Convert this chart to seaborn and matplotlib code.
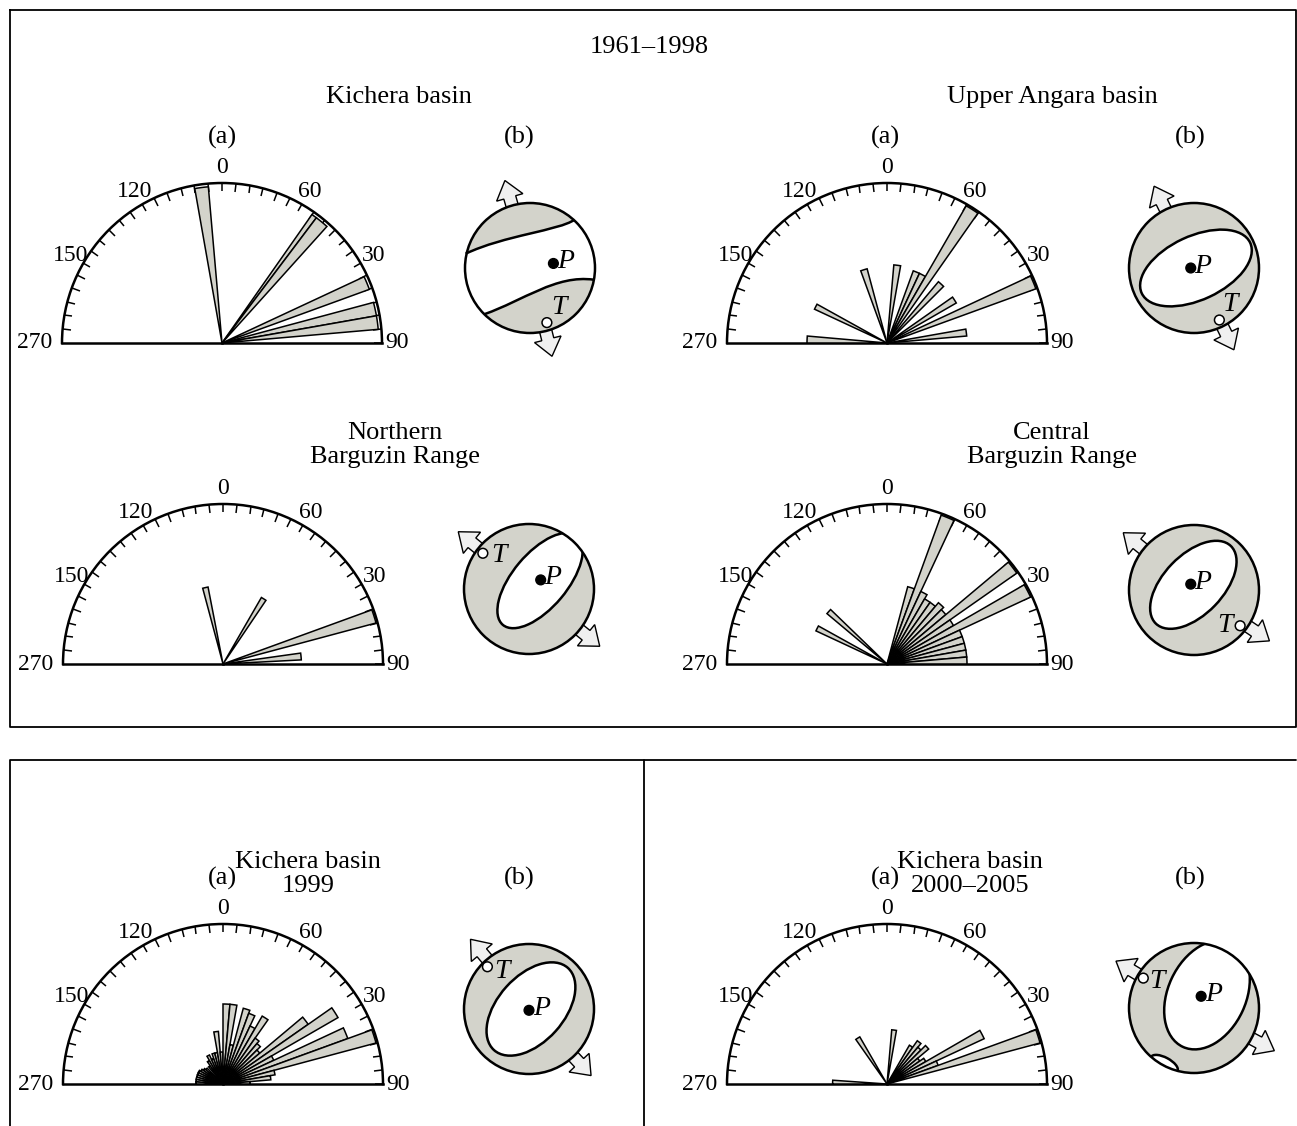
import numpy as np
import matplotlib
matplotlib.use("Agg")
import matplotlib.pyplot as plt
from matplotlib.patches import Circle, Ellipse, FancyArrow, PathPatch
from matplotlib.path import Path
import seaborn as sns

W, H = 1297, 1126
GRAY = "#d3d3cb"
R = 160      # rose radius, px
BR = 65      # beach ball radius, px

# ---- rose diagrams: bin start azimuth (deg, clockwise from N), bin width (deg), relative length
kb_start = [-10, 35, 37, 65, 75, 80]
kb_width = [5, 2, 5, 5, 5, 5]
kb_len = [0.98, 0.98, 0.98, 0.98, 0.98, 0.98]

ua_start = [-90, -65, -20, 5, 20, 25, 30, 40, 55, 65, 80]
ua_width = [5, 4, 5, 5, 5, 5, 5, 5, 5, 5, 5]
ua_len = [0.5, 0.5, 0.48, 0.49, 0.48, 0.48, 0.99, 0.5, 0.5, 0.99, 0.5]

nb_start = [-15, 30, 70, 82]
nb_width = [4, 4, 5, 5]
nb_len = [0.49, 0.48, 0.99, 0.49]

cb_start = [-65, -50, 15, 20, 25, 30, 35, 40, 45, 50, 55, 60, 65, 70, 75, 80, 85]
cb_width = [4, 4] + [5] * 15
cb_len = [0.49, 0.49, 0.5, 0.99, 0.5, 0.47, 0.47, 0.5, 0.48, 0.99, 0.48, 0.99,
          0.5, 0.5, 0.5, 0.5, 0.5]

k99_start = [-90, -85, -80, -75, -70, -65, -60, -55, -50, -40, -35, -30, -25, -20,
             -15, -10, -5, 0, 5, 10, 15, 20, 25, 30, 35, 40, 45, 50, 55, 60, 65,
             70, 75, 80, 85]
k99_width = [5] * 35
k99_len = [0.17, 0.17, 0.17, 0.17, 0.17, 0.17, 0.16, 0.15, 0.14, 0.14, 0.17, 0.2,
           0.17, 0.2, 0.2, 0.33, 0.2, 0.5, 0.5, 0.25, 0.49, 0.47, 0.4, 0.49, 0.35,
           0.33, 0.3, 0.65, 0.83, 0.35, 0.83, 0.99, 0.33, 0.3, 0.17]

k05_start = [-90, -35, 5, 30, 35, 40, 45, 50, 55, 60, 65, 70]
k05_width = [4, 5, 5, 5, 5, 5, 5, 5, 5, 5, 5, 5]
k05_len = [0.34, 0.34, 0.34, 0.28, 0.33, 0.3, 0.34, 0.25, 0.28, 0.67, 0.34, 0.99]

tick_pos = [-60, -30, 0, 30, 60, 90]
tick_lab = ["150", "120", "0", "60", "30", "90"]
west_lab = "270"

# ---- focal mechanisms (unit-radius coordinates)
# inner (white) nodal ellipse: centre x, centre y, semi-major, semi-minor, tilt
ua_ell = [0.03, 0.0, 0.92, 0.49, 25]
nb_ell = [0.17, 0.13, 0.89, 0.42, 50]
cb_ell = [-0.01, 0.08, 0.83, 0.46, 46]
k99_ell = [0.03, 0.0, 0.85, 0.51, 48]
k05_ell = [0.2, 0.2, 0.88, 0.6, 65]
k05_lens = [-0.457, -0.861, 0.23, 0.1, -28]
# Kichera 1961-1998: two nodal lines as cubic Bezier control points
kb_upper = [(-0.99, 0.22), (-0.4, 0.5), (0.45, 0.58), (0.68, 0.74)]
kb_lower = [(-0.70, -0.71), (-0.1, -0.5), (0.4, -0.1), (0.98, -0.18)]
# P and T axes, T label, arrow azimuths (deg, math convention)
kb_P, kb_T, kb_Tl, kb_arr = (0.36, 0.07), (0.26, -0.84), (0.44, -0.6), (106, -76)
ua_P, ua_T, ua_Tl, ua_arr = (-0.05, 0.0), (0.39, -0.80), (0.55, -0.56), (116, -64)
nb_P, nb_T, nb_Tl, nb_arr = (0.18, 0.14), (-0.71, 0.55), (-0.47, 0.51), (141, -39)
cb_P, cb_T, cb_Tl, cb_arr = (-0.05, 0.09), (0.71, -0.55), (0.48, -0.55), (141, -34)
k99_P, k99_T, k99_Tl, k99_arr = (0.0, -0.02), (-0.64, 0.65), (-0.41, 0.57), (130, -47)
k05_P, k05_T, k05_Tl, k05_arr = (0.11, 0.18), (-0.78, 0.46), (-0.57, 0.41), (149, -28)

sns.set_theme(style="white")
plt.rcParams["font.family"] = ["Liberation Serif", "DejaVu Serif"]
plt.rcParams.update({"text.color": "black", "axes.edgecolor": "black",
                     "xtick.color": "black", "ytick.color": "black"})

fig = plt.figure(figsize=(W / 100, H / 100), dpi=100)

# frames
bg = fig.add_axes([0, 0, 1, 1], zorder=-5)
bg.set_xlim(0, W)
bg.set_ylim(H, 0)
bg.axis("off")
lk = dict(color="black", lw=1.3)
bg.plot([10, 1296, 1296, 10, 10], [10, 10, 727, 727, 10], **lk)
bg.plot([10, 10, 1296], [1126, 760, 760], **lk)
bg.plot([644, 644], [760, 1126], **lk)


def ftext(x, y, s, size=19, **kw):
    fig.text(x / W, 1 - y / H, s, fontsize=size, ha="center", va="center",
             linespacing=1.12, **kw)


def rose(cx, cy, start, width, length):
    ax = fig.add_axes([(cx - R) / W, 1 - (cy + 0.5 * R) / H, 2 * R / W, 2 * R / H],
                      projection="polar")
    ax.set_theta_zero_location("N")
    ax.set_theta_direction(-1)
    ax.set_thetamin(-90)
    ax.set_thetamax(90)
    ax.set_ylim(0, 1)
    ax.set_yticks([])
    ax.grid(False)
    centers = np.deg2rad(np.array(start) + np.array(width) / 2)
    ax.bar(centers, length, width=np.deg2rad(width), color=GRAY,
           edgecolor="black", linewidth=1.1, zorder=3)
    ax.set_xticks(np.deg2rad(tick_pos))
    ax.set_xticklabels(tick_lab, fontsize=17)
    ax.set_xticks(np.deg2rad(np.arange(-85, 90, 5)), minor=True)
    ax.tick_params(axis="x", which="both", bottom=False, top=True,
                   labelbottom=True, labeltop=False,
                   direction="in", length=6, width=1.1, pad=4)
    ax.annotate(west_lab, (np.deg2rad(-90), 1.0), xytext=(-7, 0),
                textcoords="offset points", ha="right", va="center", fontsize=17)
    for sp in ax.spines.values():
        sp.set_linewidth(1.8)
        sp.set_color("black")
    return ax


def arrows(ax, az):
    for a in az:
        c, s = np.cos(np.deg2rad(a)), np.sin(np.deg2rad(a))
        r0, r1 = 0.8, 1.4
        ax.add_patch(FancyArrow(r0 * c, r0 * s, (r1 - r0) * c, (r1 - r0) * s,
                                width=0.19, head_width=0.42, head_length=0.27,
                                length_includes_head=True, fc="#f0f0f0",
                                ec="black", lw=1.0, zorder=1))


def ball(cx, cy, P, T, Tl, az, ell=None, curves=None, lens=None):
    ax = fig.add_axes([(cx - 1.5 * BR) / W, 1 - (cy + 1.5 * BR) / H,
                       3 * BR / W, 3 * BR / H])
    ax.set_xlim(-1.5, 1.5)
    ax.set_ylim(-1.5, 1.5)
    ax.set_aspect("equal")
    ax.axis("off")
    arrows(ax, az)
    disk = Circle((0, 0), 1, fc=GRAY, ec="none", zorder=2)
    ax.add_patch(disk)
    for spec in (ell, lens):
        if spec is None:
            continue
        e = Ellipse((spec[0], spec[1]), 2 * spec[2], 2 * spec[3], angle=spec[4],
                    fc="white", ec="black", lw=1.8, zorder=3)
        ax.add_patch(e)
        e.set_clip_path(disk)
    if curves is not None:
        up, lo = curves
        codes = [Path.MOVETO, Path.CURVE4, Path.CURVE4, Path.CURVE4]
        verts = list(up) + [(1.5, 0.3)] + list(lo[::-1]) + [(-1.5, -0.3), up[0]]
        vcodes = (codes + [Path.LINETO, Path.LINETO] + [Path.CURVE4] * 3
                  + [Path.LINETO, Path.LINETO])
        band = PathPatch(Path(verts, vcodes), fc="white", ec="none", zorder=3)
        ax.add_patch(band)
        band.set_clip_path(disk)
        for cv in (up, lo):
            ax.add_patch(PathPatch(Path(cv, codes), fc="none", ec="black",
                                   lw=1.8, zorder=4))
    ax.add_patch(Circle((0, 0), 1, fc="none", ec="black", lw=1.8, zorder=5))
    ax.add_patch(Circle(P, 0.075, fc="black", ec="black", zorder=6))
    ax.add_patch(Circle(T, 0.075, fc="white", ec="black", lw=1.1, zorder=6))
    ax.text(P[0] + 0.19, P[1] + 0.03, "P", fontsize=20, style="italic",
            ha="center", va="center", zorder=7)
    ax.text(Tl[0], Tl[1], "T", fontsize=20, style="italic", ha="center",
            va="center", zorder=7)


# titles
ftext(649, 47, "1961–1998")
ftext(399, 97, "Kichera basin")
ftext(1052, 97, "Upper Angara basin")
ftext(395, 445, "Northern\nBarguzin Range")
ftext(1052, 445, "Central\nBarguzin Range")
ftext(308, 874, "Kichera basin\n1999")
ftext(970, 874, "Kichera basin\n2000–2005")
for y in (137, 878):
    for x, s in ((222, "(a)"), (519, "(b)"), (885, "(a)"), (1190, "(b)")):
        ftext(x, y, s)

rose(222, 343, kb_start, kb_width, kb_len)
rose(887, 343, ua_start, ua_width, ua_len)
rose(223, 664, nb_start, nb_width, nb_len)
rose(887, 664, cb_start, cb_width, cb_len)
rose(223, 1084, k99_start, k99_width, k99_len)
rose(887, 1084, k05_start, k05_width, k05_len)

ball(530, 268, kb_P, kb_T, kb_Tl, kb_arr, curves=(kb_upper, kb_lower))
ball(1194, 268, ua_P, ua_T, ua_Tl, ua_arr, ell=ua_ell)
ball(529, 589, nb_P, nb_T, nb_Tl, nb_arr, ell=nb_ell)
ball(1194, 590, cb_P, cb_T, cb_Tl, cb_arr, ell=cb_ell)
ball(529, 1009, k99_P, k99_T, k99_Tl, k99_arr, ell=k99_ell)
ball(1194, 1008, k05_P, k05_T, k05_Tl, k05_arr, ell=k05_ell, lens=k05_lens)

fig.savefig("out.png", dpi=100, facecolor="white")
